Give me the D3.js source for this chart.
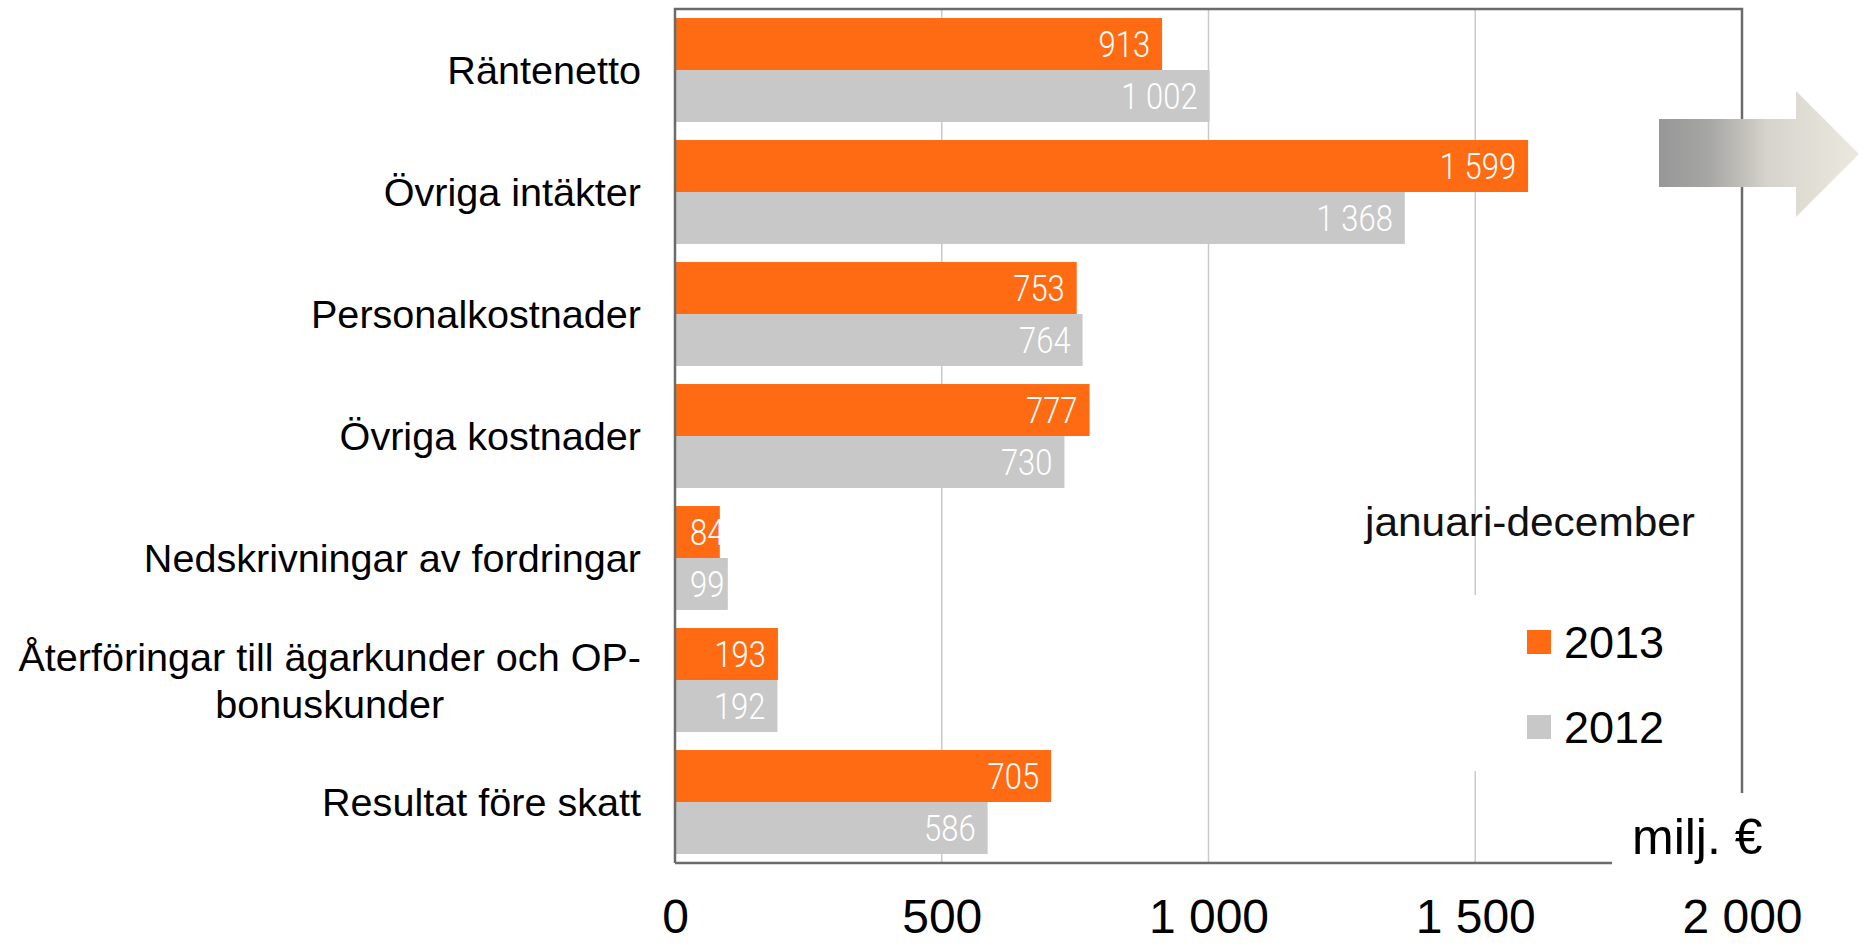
<!DOCTYPE html>
<html>
<head>
<meta charset="utf-8">
<script src="https://cdn.jsdelivr.net/npm/d3@7"></script>
<style>
  body { margin: 0; background: #fff; }
  svg { display: block; font-family: "Liberation Sans", Arial, sans-serif; }
</style>
</head>
<body>
<div id="chart"></div>
<script>
// Data (milj. €, januari-december)
var categories = [
    "Räntenetto",
    "Övriga intäkter",
    "Personalkostnader",
    "Övriga kostnader",
    "Nedskrivningar av fordringar",
    "Återföringar till ägarkunder och OP-\nbonuskunder",
    "Resultat före skatt"
];
var years = ["2013", "2012"];
var values2013 = [913, 1599, 753, 777, 84, 193, 705];
var values2012 = [1002, 1368, 764, 730, 99, 192, 586];
var xTicks = [0, 500, 1000, 1500, 2000];

var colors = { "2013": "#fe6b12", "2012": "#c8c8c8" };

var svgWidth = 1865;
var svgHeight = 946;

var plot = { left: 675, right: 1742, top: 9, bottom: 863 };

var fi = d3.formatLocale({ decimal: ",", thousands: " ", grouping: [3], currency: ["", ""] });
var fmt = fi.format(",d");

var svg = d3.select("#chart")
    .append("svg")
    .attr("width", svgWidth)
    .attr("height", svgHeight);

// Scales
var xScale = d3.scaleLinear()
    .domain([0, 2000])
    .range([plot.left, plot.right]);

var yScale = d3.scaleBand()
    .domain(categories)
    .range([plot.top, plot.bottom])
    .paddingInner(0.148)
    .paddingOuter(0.074);

var ySub = d3.scaleBand()
    .domain(years)
    .range([0, yScale.bandwidth()]);

// Gridlines
svg.append("g")
    .selectAll("line")
    .data(xTicks.slice(1, -1))
    .enter()
    .append("line")
    .attr("x1", d => xScale(d))
    .attr("x2", d => xScale(d))
    .attr("y1", plot.top)
    .attr("y2", plot.bottom)
    .attr("stroke", "#c9c9c9")
    .attr("stroke-width", 1.5);

// Bars
var rows = categories.map(function(c, i) {
    return { cat: c, vals: [{ year: "2013", v: values2013[i] }, { year: "2012", v: values2012[i] }] };
});

var groups = svg.selectAll(".grp")
    .data(rows)
    .enter()
    .append("g")
    .attr("transform", d => `translate(0, ${yScale(d.cat)})`);

groups.selectAll("rect")
    .data(d => d.vals)
    .enter()
    .append("rect")
    .attr("x", xScale(0))
    .attr("y", d => ySub(d.year))
    .attr("width", d => xScale(d.v) - xScale(0))
    .attr("height", ySub.bandwidth())
    .attr("fill", d => colors[d.year]);

// Value labels inside the bar end (thin, condensed)
var labels = groups.selectAll("text")
    .data(d => d.vals)
    .enter()
    .append("text")
    .text(d => fmt(d.v))
    .attr("y", d => ySub(d.year) + ySub.bandwidth() / 2)
    .attr("dy", "0.36em")
    .attr("text-anchor", "end")
    .attr("font-family", "Roboto, sans-serif")
    .attr("font-weight", 300)
    .attr("font-size", "36px")
    .attr("fill", "#fff");

labels.each(function(d) {
    var w = this.getComputedTextLength() * 0.86;
    d3.select(this)
        .attr("textLength", w)
        .attr("lengthAdjust", "spacingAndGlyphs")
        .attr("x", Math.max(xScale(d.v) - 12, xScale(0) + 15 + w));
});

// Frame
svg.append("path")
    .attr("d", `M${plot.left},${plot.bottom}V${plot.top}H${plot.right}V${plot.bottom}H${plot.left}`)
    .attr("fill", "none")
    .attr("stroke", "#6b6b6b")
    .attr("stroke-width", 2.5);

// X axis tick labels
var xAxis = d3.axisBottom(xScale)
    .tickValues(xTicks)
    .tickFormat(fmt)
    .tickSize(0)
    .tickPadding(36);

var axisG = svg.append("g")
    .attr("transform", `translate(0, ${plot.bottom})`)
    .call(xAxis);
axisG.select(".domain").remove();
axisG.selectAll("text")
    .attr("font-family", "'Liberation Sans', Arial, sans-serif")
    .attr("font-size", "48px")
    .attr("fill", "#000");

// Category labels
var catG = svg.append("g")
    .attr("font-size", "39.6px")
    .attr("fill", "#000");

categories.forEach(function(c) {
    var lines = c.split("\n");
    var cy = yScale(c) + yScale.bandwidth() / 2;
    var lh = 47.5;
    var t = catG.append("text")
        .attr("text-anchor", lines.length > 1 ? "middle" : "end");
    lines.forEach(function(l, j) {
        t.append("tspan")
            .attr("y", cy + (j - (lines.length - 1) / 2) * lh)
            .attr("dy", "0.36em")
            .text(l);
    });
    if (lines.length > 1) {
        var maxW = d3.max(t.selectAll("tspan").nodes(), n => n.getComputedTextLength());
        t.selectAll("tspan").attr("x", 641 - maxW / 2);
    } else {
        t.selectAll("tspan").attr("x", 641);
    }
});

// Legend
svg.append("rect")
    .attr("x", 1455)
    .attr("y", 595)
    .attr("width", 270)
    .attr("height", 176)
    .attr("fill", "#fff");

var legend = svg.selectAll(".legend")
    .data(years)
    .enter()
    .append("g")
    .attr("transform", (d, i) => `translate(1527, ${630 + i * 85})`);

legend.append("rect")
    .attr("width", 24)
    .attr("height", 24)
    .attr("fill", d => colors[d]);

legend.append("text")
    .attr("x", 37)
    .attr("y", 12)
    .attr("dy", "0.36em")
    .attr("font-size", "45px")
    .attr("fill", "#000")
    .text(d => d);

svg.append("text")
    .attr("x", 1365)
    .attr("y", 536)
    .attr("font-size", "41px")
    .attr("fill", "#111")
    .attr("textLength", 330)
    .attr("lengthAdjust", "spacingAndGlyphs")
    .text("januari-december");

// Unit label
svg.append("rect")
    .attr("x", 1612)
    .attr("y", 793)
    .attr("width", 200)
    .attr("height", 80)
    .attr("fill", "#fff");

svg.append("text")
    .attr("x", 1632)
    .attr("y", 854)
    .attr("font-size", "50px")
    .attr("fill", "#000")
    .text("milj. €");

// Decorative arrow
var grad = svg.append("defs")
    .append("linearGradient")
    .attr("id", "arrowGrad")
    .attr("x1", "0%").attr("x2", "100%")
    .attr("y1", "0%").attr("y2", "0%");
grad.append("stop").attr("offset", "0%").attr("stop-color", "#979797");
grad.append("stop").attr("offset", "25%").attr("stop-color", "#a6a6a4");
grad.append("stop").attr("offset", "55%").attr("stop-color", "#d6d4cc");
grad.append("stop").attr("offset", "100%").attr("stop-color", "#ebe9df");

svg.append("path")
    .attr("d", "M1659,119H1796V91L1859,154L1796,217V187H1659Z")
    .attr("fill", "url(#arrowGrad)");
</script>
</body>
</html>
